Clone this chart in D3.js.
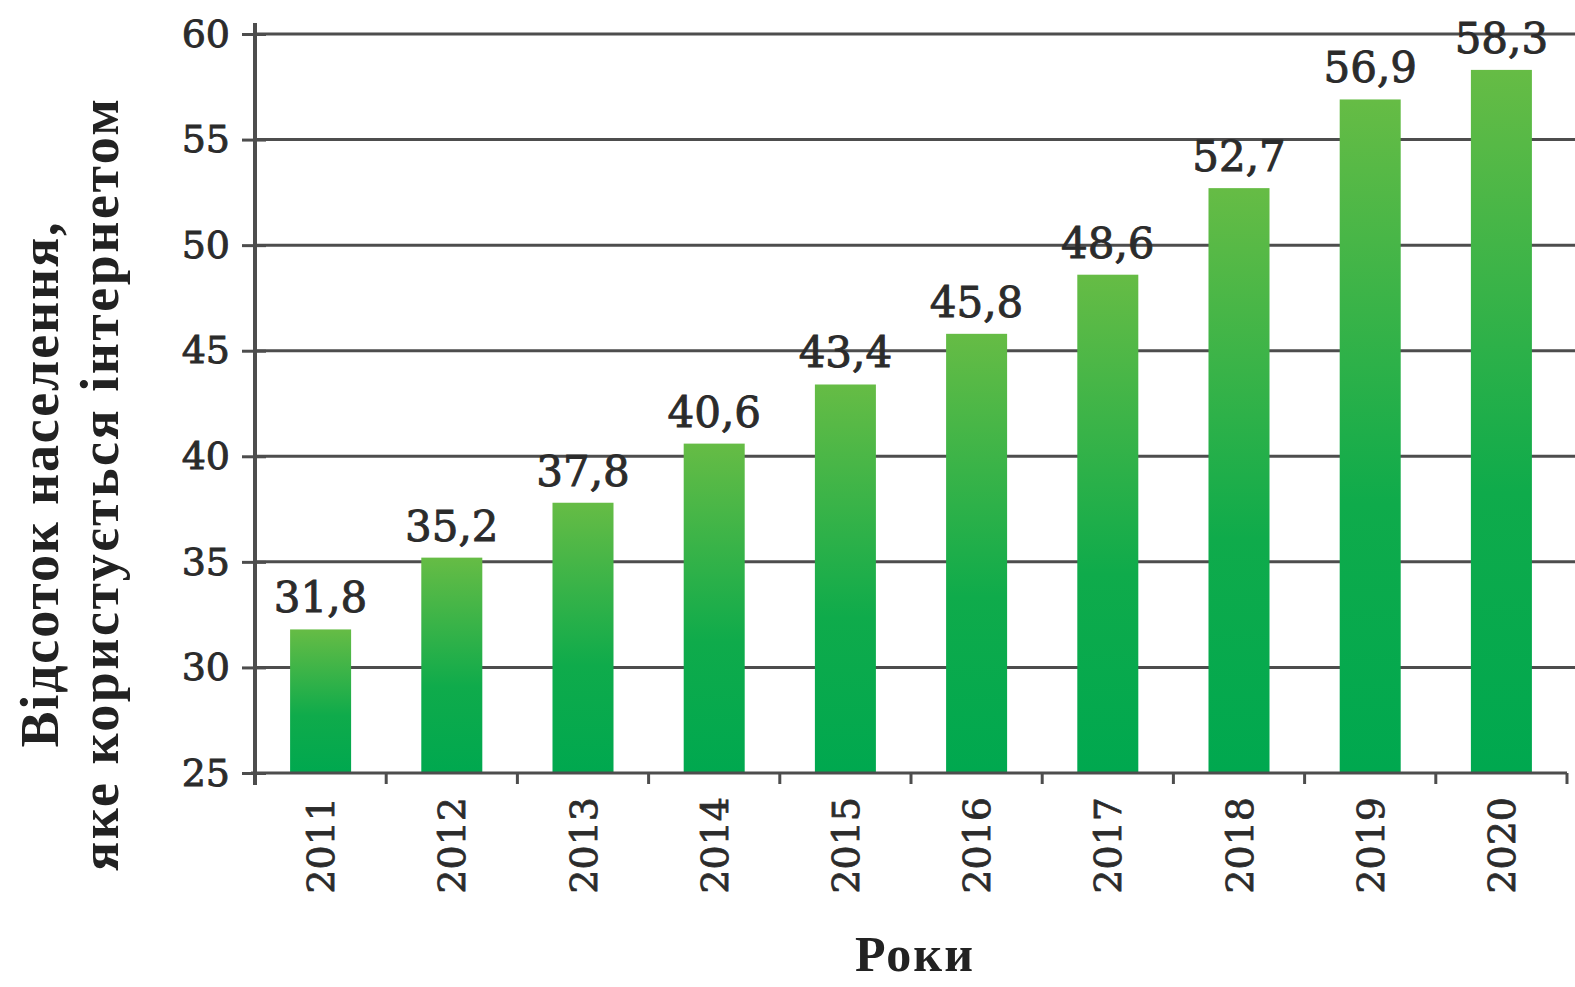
<!DOCTYPE html>
<html>
<head>
<meta charset="utf-8">
<script src="https://cdn.jsdelivr.net/npm/d3@7"></script>
<style>
  html, body { margin: 0; padding: 0; background: #fff; }
  svg { display: block; }
</style>
</head>
<body>
<div id="chart"></div>
<script>
// Data
const years = ['2011', '2012', '2013', '2014', '2015', '2016', '2017', '2018', '2019', '2020'];
const shares = [31.8, 35.2, 37.8, 40.6, 43.4, 45.8, 48.6, 52.7, 56.9, 58.3];
const yTicks = [25, 30, 35, 40, 45, 50, 55, 60];
const yTitleLines = ['Відсоток населення,', 'яке користується інтернетом'];
const xTitle = 'Роки';

const width = 1575;
const height = 987;

const svg = d3.select('#chart')
    .append('svg')
    .attr('width', width)
    .attr('height', height)
    .attr('viewBox', `0 0 ${width} ${height}`);

// Scales
const x = d3.scaleBand()
    .domain(years)
    .range([255, 1567])
    .paddingInner(0.535)
    .paddingOuter(0.2675);

const y = d3.scaleLinear()
    .domain([25, 60])
    .range([773, 34]);

const axisColor = '#4d4d4d';
const textColor = '#2b2b2b';

// Gradient for bars
const grad = svg.append('defs')
    .append('linearGradient')
    .attr('id', 'bar-gradient')
    .attr('x1', 0).attr('y1', 0)
    .attr('x2', 0).attr('y2', 1);
grad.append('stop').attr('offset', '0%').attr('stop-color', '#66bc45');
grad.append('stop').attr('offset', '60%').attr('stop-color', '#0fab4b');
grad.append('stop').attr('offset', '100%').attr('stop-color', '#00a84f');

// Grid lines (behind bars)
svg.append('g')
    .attr('class', 'grid')
    .selectAll('line')
    .data(yTicks.filter(t => t > y.domain()[0]))
    .enter().append('line')
    .attr('x1', x.range()[0])
    .attr('x2', width)
    .attr('y1', d => y(d))
    .attr('y2', d => y(d))
    .attr('stroke', axisColor)
    .attr('stroke-width', 3);

// Bars
svg.append('g')
    .selectAll('rect')
    .data(years)
    .enter().append('rect')
    .attr('x', d => x(d))
    .attr('y', (d, i) => y(shares[i]))
    .attr('width', x.bandwidth())
    .attr('height', (d, i) => y(y.domain()[0]) - y(shares[i]))
    .attr('fill', 'url(#bar-gradient)');

// Value labels
svg.append('g')
    .selectAll('text')
    .data(years)
    .enter().append('text')
    .attr('x', d => x(d) + x.bandwidth() / 2)
    .attr('y', (d, i) => y(shares[i]) - 17)
    .attr('text-anchor', 'middle')
    .attr('font-family', 'DejaVu Serif')
    .attr('font-size', '42px')
    .attr('fill', textColor)
    .attr('stroke', textColor)
    .attr('stroke-width', 0.9)
    .text((d, i) => String(shares[i]).replace('.', ','));

// Y axis
const yAxis = svg.append('g')
    .attr('transform', `translate(${x.range()[0]},0)`)
    .call(d3.axisLeft(y).tickValues(yTicks).tickSize(13).tickPadding(12).tickFormat(d3.format('d')));
yAxis.select('.domain').remove();
yAxis.selectAll('.tick line')
    .attr('x2', 11)
    .attr('x1', -13)
    .attr('stroke', axisColor)
    .attr('stroke-width', 3);
yAxis.selectAll('.tick text')
    .attr('font-family', 'DejaVu Serif')
    .attr('font-size', '38px')
    .attr('fill', textColor)
    .attr('stroke', textColor)
    .attr('stroke-width', 0.9);
yAxis.append('line')
    .attr('x1', 0).attr('x2', 0)
    .attr('y1', y(60) - 11)
    .attr('y2', y(25) + 12)
    .attr('stroke', axisColor)
    .attr('stroke-width', 4);

// X axis line and ticks at band boundaries
const xAxis = svg.append('g')
    .attr('transform', `translate(0,${y(25)})`);
xAxis.append('line')
    .attr('x1', x.range()[0] - 4)
    .attr('x2', x.range()[1])
    .attr('stroke', axisColor)
    .attr('stroke-width', 3);

const gap = x.step() - x.bandwidth();
const bounds = years.map(d => x(d) - gap / 2).concat([x.range()[1]]);
xAxis.selectAll('.xtick')
    .data(bounds)
    .enter().append('line')
    .attr('class', 'xtick')
    .attr('x1', d => d).attr('x2', d => d)
    .attr('y1', 0).attr('y2', 11)
    .attr('stroke', axisColor)
    .attr('stroke-width', 3);

// Year labels, rotated
xAxis.selectAll('.year')
    .data(years)
    .enter().append('text')
    .attr('class', 'year')
    .attr('transform', d => `translate(${x(d) + x.bandwidth() / 2},24) rotate(-90)`)
    .attr('dy', '0.36em')
    .attr('text-anchor', 'end')
    .attr('font-family', 'DejaVu Serif')
    .attr('font-size', '38px')
    .attr('fill', textColor)
    .attr('stroke', textColor)
    .attr('stroke-width', 0.8)
    .text(d => d);

// Y axis title (two lines)
const titleY = 485;
const lineLens = [525, 772];
svg.append('g')
    .selectAll('text')
    .data(yTitleLines)
    .enter().append('text')
    .attr('transform', (d, i) => `translate(${58 + i * 60},${titleY}) rotate(-90)`)
    .attr('text-anchor', 'middle')
    .attr('font-family', 'Liberation Serif')
    .attr('font-weight', 'bold')
    .attr('font-size', '54px')
    .attr('fill', '#222')
    .attr('textLength', (d, i) => lineLens[i])
    .attr('lengthAdjust', 'spacing')
    .text(d => d);

// X axis title
svg.append('text')
    .attr('x', 915)
    .attr('y', 971)
    .attr('text-anchor', 'middle')
    .attr('font-family', 'Liberation Serif')
    .attr('font-weight', 'bold')
    .attr('font-size', '50px')
    .attr('letter-spacing', '2px')
    .attr('fill', '#222')
    .text(xTitle);
</script>
</body>
</html>
